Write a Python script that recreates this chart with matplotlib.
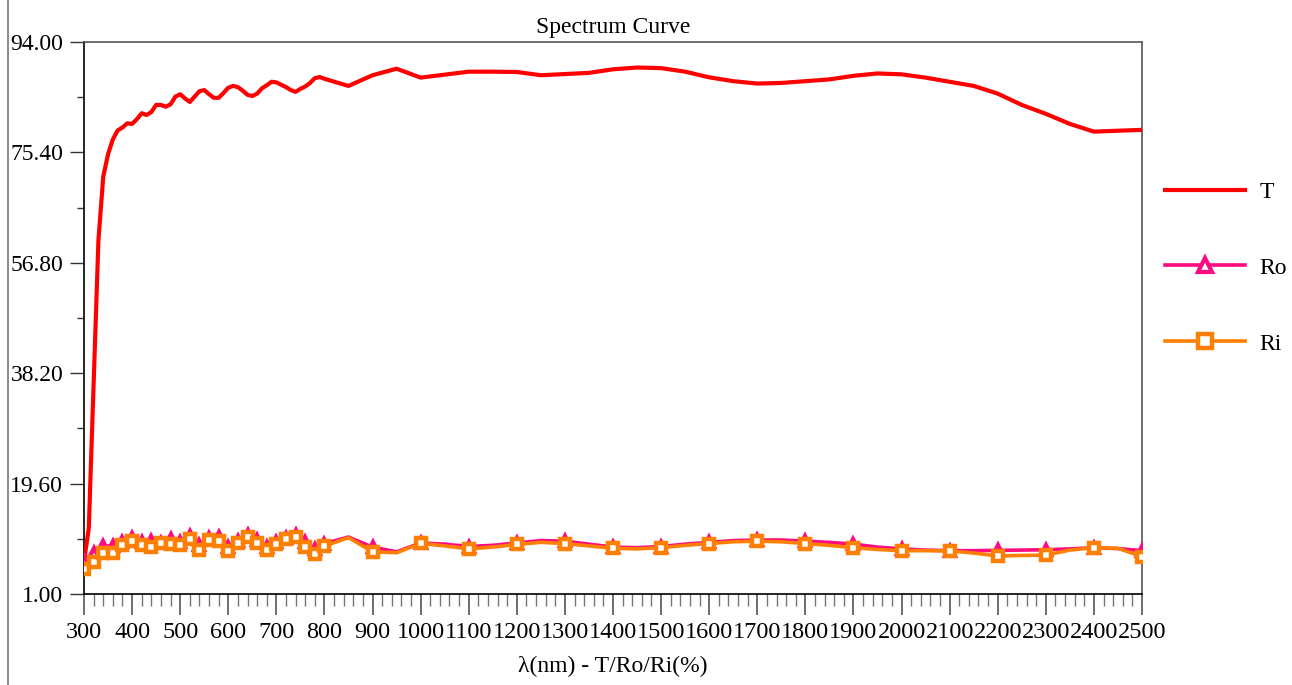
import matplotlib
matplotlib.use("Agg")
import matplotlib.pyplot as plt
from matplotlib.lines import Line2D
from matplotlib.ticker import MultipleLocator, FixedLocator, FormatStrFormatter

plt.rcParams['font.family'] = ['Liberation Serif', 'DejaVu Serif']

# ---- data ----
wl_T = [300, 310, 320, 330, 340, 350, 360, 370, 380, 390,
        400, 410, 420, 430, 440, 450, 460, 470, 480, 490,
        500, 510, 520, 530, 540, 550, 560, 570, 580, 590,
        600, 610, 620, 630, 640, 650, 660, 670, 680, 690,
        700, 710, 720, 730, 740, 750, 760, 770, 780, 790,
        800, 850, 900, 950, 1000, 1050, 1100, 1150, 1200, 1250,
        1300, 1350, 1400, 1450, 1500, 1550, 1600, 1650, 1700, 1750,
        1800, 1850, 1900, 1950, 2000, 2050, 2100, 2150, 2200, 2250,
        2300, 2350, 2400, 2450, 2500]
T = [6.5, 12.1, 36.4, 60.6, 71.3, 75.1, 77.6, 79.1, 79.6, 80.3,
     80.2, 81.0, 82.0, 81.7, 82.2, 83.4, 83.4, 83.1, 83.5, 84.8,
     85.2, 84.5, 83.9, 84.8, 85.7, 85.9, 85.2, 84.6, 84.6, 85.4,
     86.3, 86.6, 86.4, 85.8, 85.1, 84.9, 85.3, 86.2, 86.7, 87.3,
     87.2, 86.8, 86.4, 85.9, 85.6, 86.1, 86.5, 87.1, 87.9, 88.1,
     87.8, 86.6, 88.4, 89.5, 88.0, 88.5, 89.0, 89.0, 88.95, 88.4,
     88.6, 88.8, 89.4, 89.7, 89.6, 89.0, 88.05, 87.4, 87.0, 87.1,
     87.4, 87.7, 88.3, 88.7, 88.55, 88.0, 87.3, 86.6, 85.3, 83.4,
     81.9, 80.2, 78.9, 79.05, 79.2]

wl_R = [300, 320, 340, 360, 380, 400, 420, 440, 460, 480,
        500, 520, 540, 560, 580, 600, 620, 640, 660, 680,
        700, 720, 740, 760, 780, 800, 850, 900, 950, 1000,
        1050, 1100, 1150, 1200, 1250, 1300, 1350, 1400, 1450, 1500,
        1550, 1600, 1650, 1700, 1750, 1800, 1850, 1900, 1950, 2000,
        2050, 2100, 2150, 2200, 2250, 2300, 2350, 2400, 2450, 2500]
Ro = [6.5, 7.9, 9.1, 9.1, 9.7, 10.5, 9.7, 10.0, 9.6, 10.3,
      9.8, 10.8, 9.3, 10.5, 10.6, 9.0, 10.0, 10.9, 10.1, 9.0,
      9.8, 10.5, 10.9, 9.7, 8.6, 9.5, 10.6, 8.9, 8.1, 9.6,
      9.4, 9.0, 9.2, 9.6, 10.0, 9.9, 9.4, 8.9, 8.8, 9.0,
      9.4, 9.7, 10.0, 10.1, 10.1, 9.9, 9.7, 9.4, 8.9, 8.6,
      8.4, 8.3, 8.3, 8.35, 8.4, 8.45, 8.6, 8.8, 8.65, 8.3]
Ri = [5.15, 6.44, 7.95, 7.95, 9.25, 9.97, 9.25, 8.96, 9.64, 9.42,
      9.25, 10.21, 8.41, 10.09, 9.97, 8.29, 9.53, 10.55, 9.64, 8.41,
      9.42, 10.21, 10.55, 8.96, 7.73, 9.08, 10.5, 8.12, 7.95, 9.53,
      9.1, 8.6, 8.9, 9.35, 9.7, 9.5, 9.1, 8.7, 8.6, 8.8,
      9.2, 9.5, 9.8, 9.9, 9.8, 9.5, 9.2, 8.8, 8.5, 8.3,
      8.3, 8.25, 7.9, 7.4, 7.5, 7.55, 8.4, 8.8, 8.7, 7.3]

y_ticks = [1.0, 19.6, 38.2, 56.8, 75.4, 94.0]
title = "Spectrum Curve"
xlabel = "λ(nm) - T/Ro/Ri(%)"

# ---- figure ----
W, H = 1292, 685
fig = plt.figure(figsize=(W / 100, H / 100), dpi=100)
ax = fig.add_axes([84 / W, 1 - 594 / H, (1142 - 84) / W, (594 - 42) / H])

mark_idx = [i for i, w in enumerate(wl_R) if w <= 800 or w % 100 == 0]

ax.plot(wl_T, T, color='#FF0000', lw=3.0, label='T', zorder=3)
ax.plot(wl_R, Ro, color='#FF0A82', lw=2.6, marker='^', markersize=7.5,
        markerfacecolor='white', markeredgecolor='#FF0A82', markeredgewidth=3.0,
        markevery=mark_idx, label='Ro', zorder=4)
ax.plot(wl_R, Ri, color='#FF8000', lw=2.6, marker='s', markersize=7.5,
        markerfacecolor='white', markeredgecolor='#FF8000', markeredgewidth=3.2,
        markevery=mark_idx, label='Ri', zorder=5)

ax.set_xlim(300, 2500)
ax.set_ylim(1, 94)
ax.xaxis.set_major_locator(MultipleLocator(100))
ax.xaxis.set_minor_locator(MultipleLocator(20))
ax.yaxis.set_major_locator(FixedLocator(y_ticks))
ax.yaxis.set_minor_locator(FixedLocator([(a + b) / 2 for a, b in zip(y_ticks[:-1], y_ticks[1:])]))
ax.yaxis.set_major_formatter(FormatStrFormatter('%.2f'))

ax.tick_params(axis='x', which='major', direction='out', length=15, width=1.2,
               color='#555555', labelsize=17.5, pad=5)
ax.tick_params(axis='x', which='minor', direction='out', length=8.5, width=1.0,
               color='#777777')
ax.tick_params(axis='y', which='major', direction='out', length=10, width=1.0,
               color='#333333', labelsize=17, pad=5)
ax.tick_params(axis='y', which='minor', direction='out', length=5, width=1.0,
               color='#333333')

for s in ['left', 'bottom']:
    ax.spines[s].set_color('black')
    ax.spines[s].set_linewidth(1.2)
for s in ['top', 'right']:
    ax.spines[s].set_color('#555555')
    ax.spines[s].set_linewidth(1.2)

fig.text(613 / W, 1 - 27 / H, title, ha='center', va='center', fontsize=17)
fig.text(613 / W, 1 - 666 / H, xlabel, ha='center', va='center', fontsize=17)

fig.add_artist(Line2D([8 / W, 8 / W], [0, 1], color='#777777', lw=1.2))

ax.legend(loc='center left', bbox_to_anchor=(1165 / W, 1 - 268 / H),
          bbox_transform=fig.transFigure, frameon=False, fontsize=17,
          borderaxespad=0, borderpad=0, handlelength=3.4, handletextpad=0.6,
          labelspacing=2.3, markerscale=1.3)

fig.savefig('out.png', dpi=100)
